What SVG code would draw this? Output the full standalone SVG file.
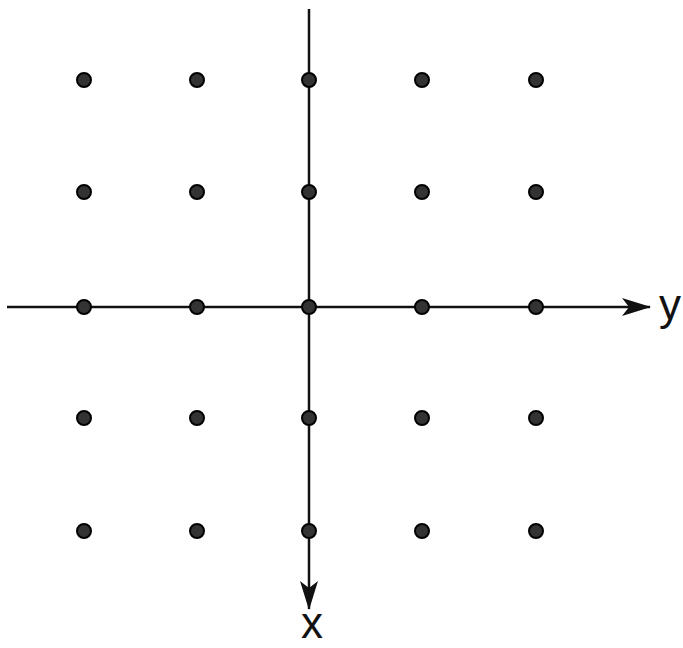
<svg xmlns="http://www.w3.org/2000/svg" width="683" height="648" viewBox="0 0 683 648">
<style>
.ax{stroke:#111;stroke-width:2.5;fill:none}
.dot{fill:#333;stroke:#000;stroke-width:2}
.lbl{font-family:"Liberation Sans",Arial,sans-serif;font-size:44px;fill:#111}
</style>
<defs>
<marker id="ah" viewBox="0 0 30 20" refX="28" refY="10" markerWidth="30" markerHeight="20" markerUnits="userSpaceOnUse" orient="auto">
<path d="M0,1 L29,10 L0,19 L7,10 Z" fill="#111"/>
</marker>
</defs>
<rect width="683" height="648" fill="#fff"/>
<g id="connectors">
<line class="ax" x1="7" y1="307" x2="650" y2="307" marker-end="url(#ah)"/>
<line class="ax" x1="309" y1="9" x2="309" y2="609" marker-end="url(#ah)"/>
</g>
<g id="dots">
<circle class="dot" cx="84" cy="80" r="7"/>
<circle class="dot" cx="197" cy="80" r="7"/>
<circle class="dot" cx="309" cy="80" r="7"/>
<circle class="dot" cx="422" cy="80" r="7"/>
<circle class="dot" cx="536" cy="80" r="7"/>
<circle class="dot" cx="84" cy="192" r="7"/>
<circle class="dot" cx="197" cy="192" r="7"/>
<circle class="dot" cx="309" cy="192" r="7"/>
<circle class="dot" cx="422" cy="192" r="7"/>
<circle class="dot" cx="536" cy="192" r="7"/>
<circle class="dot" cx="84" cy="307" r="7"/>
<circle class="dot" cx="197" cy="307" r="7"/>
<circle class="dot" cx="309" cy="307" r="7"/>
<circle class="dot" cx="422" cy="307" r="7"/>
<circle class="dot" cx="536" cy="307" r="7"/>
<circle class="dot" cx="84" cy="418" r="7"/>
<circle class="dot" cx="197" cy="418" r="7"/>
<circle class="dot" cx="309" cy="418" r="7"/>
<circle class="dot" cx="422" cy="418" r="7"/>
<circle class="dot" cx="536" cy="418" r="7"/>
<circle class="dot" cx="84" cy="531" r="7"/>
<circle class="dot" cx="197" cy="531" r="7"/>
<circle class="dot" cx="309" cy="531" r="7"/>
<circle class="dot" cx="422" cy="531" r="7"/>
<circle class="dot" cx="536" cy="531" r="7"/>
</g>
<g id="labels">
<text class="lbl" x="659" y="320">y</text>
<text class="lbl" x="312" y="638" text-anchor="middle">x</text>
</g>
</svg>
